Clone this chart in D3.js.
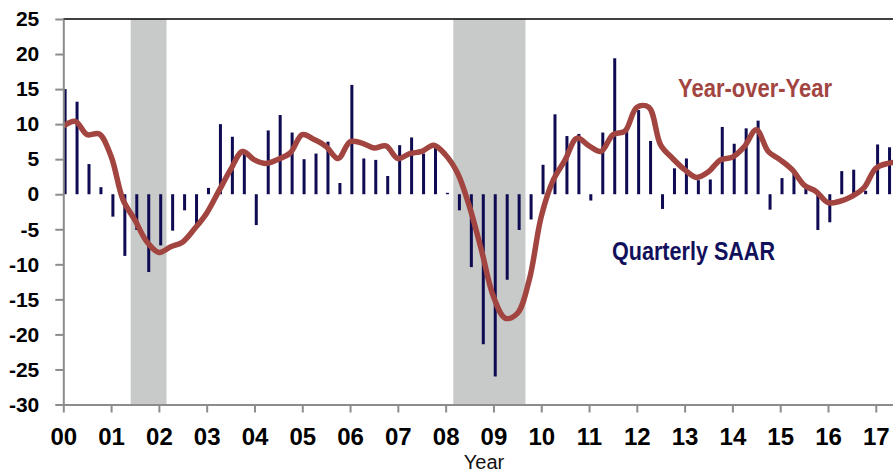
<!DOCTYPE html>
<html>
<head>
<meta charset="utf-8">
<script src="https://cdn.jsdelivr.net/npm/d3@7"></script>
<style>
  body { margin: 0; background: #fff; }
  svg { display: block; }
</style>
</head>
<body>
<div id="chart"></div>
<script>
// chart data (quarterly, starting 2000 Q1)
const startYear = 2000;
const yearTicks = d3.range(2000, 2018);
const yTicks = [-30, -25, -20, -15, -10, -5, 0, 5, 10, 15, 20, 25];

// Quarterly SAAR bars, 2000Q1 .. 2017Q2
const quarterlySaar = [
    15.0, 13.2, 4.3, 1.0, -3.2, -8.8, -5.1, -11.1, -7.3, -5.2,
    -2.3, -4.8, 0.9, 10.0, 8.2, 6.3, -4.4, 9.1, 11.3, 8.8,
    5.0, 5.8, 7.5, 1.6, 15.6, 5.1, 4.9, 2.6, 7.0, 8.1,
    5.8, 6.8, 0.2, -2.3, -10.4, -21.4, -26.0, -12.2, -5.1, -3.6,
    4.2, 11.4, 8.3, 8.6, -0.9, 8.8, 19.4, 9.4, 12.0, 7.6,
    -2.1, 3.7, 5.1, 2.0, 2.1, 9.6, 7.2, 9.4, 10.5, -2.2,
    2.3, 3.0, 1.0, -5.1, -4.0, 3.3, 3.5, 0.5, 7.1, 6.7
];

// Year-over-year line, 2000Q1 .. 2017Q3
const yearOverYear = [
    9.7, 10.4, 8.5, 8.6, 5.4, -0.8, -3.7, -6.8, -8.3, -7.5,
    -6.8, -4.9, -2.7, 0.4, 3.5, 6.1, 4.9, 4.4, 5.0, 5.9,
    8.5, 7.8, 6.8, 5.1, 7.5, 7.3, 6.6, 6.9, 5.1, 5.8,
    6.1, 7.0, 5.6, 3.0, -1.8, -8.0, -14.6, -17.7, -17.0, -12.2,
    -3.2, 2.0, 4.9, 8.0, 6.9, 6.1, 8.5, 9.0, 12.4, 12.4,
    7.0, 5.1, 3.5, 2.4, 3.2, 4.9, 5.3, 6.8, 9.2, 6.1,
    4.9, 3.5, 1.3, 0.4, -1.2, -1.0, -0.3, 0.9, 3.7, 4.4,
    4.6
];

// recession shading (decimal years)
const recessionStart = [2001.41, 2008.16];
const recessionEnd = [2002.16, 2009.67];

const width = 893, height = 473;
const margin = { top: 19, right: 0, bottom: 68.5, left: 63.3 };
const innerW = width - margin.left - margin.right;
const innerH = height - margin.top - margin.bottom;

const svg = d3.select("#chart")
    .append("svg")
    .attr("width", width)
    .attr("height", height);

const g = svg.append("g")
    .attr("transform", `translate(${margin.left},${margin.top})`);

const x = d3.scaleLinear()
    .domain([2000, 2017.36])
    .range([0, innerW]);

const y = d3.scaleLinear()
    .domain([-30, 25])
    .range([innerH, 0]);

g.append("clipPath").attr("id", "plotClip")
    .append("rect")
    .attr("width", innerW)
    .attr("height", innerH);

// recession bands
g.selectAll("rect.recession")
    .data(recessionStart.map((s, i) => [s, recessionEnd[i]]))
    .enter()
    .append("rect")
    .attr("class", "recession")
    .attr("x", d => x(d[0]))
    .attr("width", d => x(d[1]) - x(d[0]))
    .attr("y", 0)
    .attr("height", innerH)
    .attr("fill", "#c8c9c9");

// bars
const barW = 3;
g.selectAll("rect.bar")
    .data(quarterlySaar)
    .enter()
    .append("rect")
    .attr("class", "bar")
    .attr("x", (d, i) => x(startYear + i / 4) + 1.8 - barW / 2)
    .attr("width", barW)
    .attr("y", d => y(Math.max(0, d)))
    .attr("height", d => Math.abs(y(d) - y(0)))
    .attr("fill", "#0e0b52");

// year-over-year line
g.append("path")
    .datum(yearOverYear)
    .attr("clip-path", "url(#plotClip)")
    .attr("fill", "none")
    .attr("stroke", "#a2443f")
    .attr("stroke-width", 5.5)
    .attr("stroke-linejoin", "round")
    .attr("d", d3.line()
        .x((d, i) => x(startYear + i / 4))
        .y(d => y(d))
        .curve(d3.curveCatmullRom.alpha(0.5))
    );

// top border
g.append("line")
    .attr("x1", 0).attr("x2", innerW)
    .attr("y1", 0).attr("y2", 0)
    .attr("stroke", "#000")
    .attr("stroke-width", 1.5);

// y axis (plain hyphen for negatives, like the original)
const yAxis = g.append("g")
    .call(d3.axisLeft(y).tickValues(yTicks).tickSize(8).tickSizeOuter(0).tickPadding(16)
        .tickFormat(d => String(d)));
yAxis.select(".domain").attr("stroke", "#8c8c8c").attr("stroke-width", 2);
yAxis.selectAll(".tick line").attr("stroke", "#8c8c8c").attr("stroke-width", 2);
yAxis.selectAll(".tick text")
    .attr("fill", "#000")
    .style("font-family", "'Liberation Sans', Arial, sans-serif")
    .style("font-weight", "bold")
    .style("font-size", "21px");

// x axis
const xAxis = g.append("g")
    .attr("transform", `translate(0,${innerH})`)
    .call(d3.axisBottom(x).tickValues(yearTicks).tickSize(8).tickSizeOuter(0)
        .tickFormat(d => String(d % 100).padStart(2, "0")));
xAxis.select(".domain").attr("stroke", "#8c8c8c").attr("stroke-width", 2);
xAxis.selectAll(".tick line").attr("stroke", "#8c8c8c").attr("stroke-width", 2);
xAxis.selectAll(".tick text")
    .attr("y", 40)
    .attr("dy", null)
    .attr("fill", "#000")
    .style("font-family", "'Liberation Sans Narrow', 'Arial Narrow', sans-serif")
    .style("font-weight", "bold")
    .style("font-size", "24px");

// axis title
svg.append("text")
    .attr("x", 484)
    .attr("y", 468.5)
    .attr("text-anchor", "middle")
    .style("font-family", "'Liberation Sans', Arial, sans-serif")
    .style("font-size", "20px")
    .attr("fill", "#111")
    .text("Year");

// series labels
svg.append("text")
    .attr("x", 678)
    .attr("y", 97)
    .attr("textLength", 154)
    .attr("lengthAdjust", "spacingAndGlyphs")
    .style("font-family", "'Liberation Sans Narrow', 'Arial Narrow', sans-serif")
    .style("font-weight", "bold")
    .style("font-size", "25px")
    .attr("fill", "#a2443f")
    .text("Year-over-Year");

svg.append("text")
    .attr("x", 612)
    .attr("y", 260)
    .attr("textLength", 163)
    .attr("lengthAdjust", "spacingAndGlyphs")
    .style("font-family", "'Liberation Sans Narrow', 'Arial Narrow', sans-serif")
    .style("font-weight", "bold")
    .style("font-size", "25px")
    .attr("fill", "#12105a")
    .text("Quarterly SAAR");
</script>
</body>
</html>
